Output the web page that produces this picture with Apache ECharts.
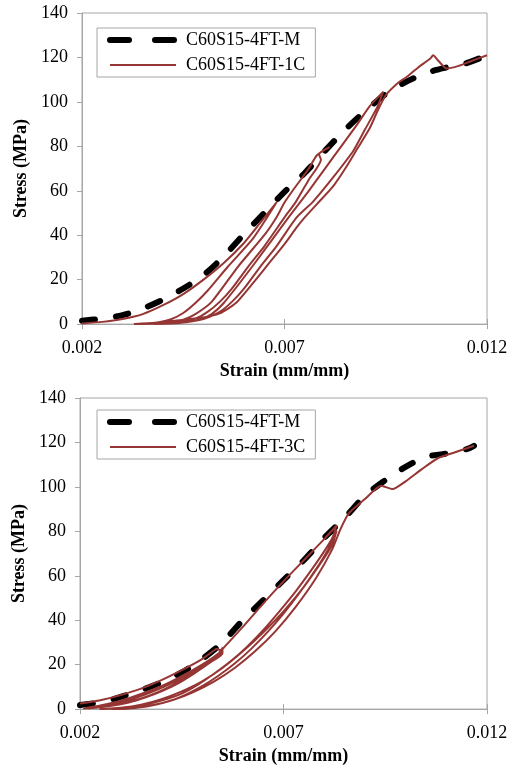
<!DOCTYPE html>
<html>
<head>
<meta charset="utf-8">
<script src="https://cdn.jsdelivr.net/npm/echarts@6/dist/echarts.min.js"></script>
<style>
  body { margin: 0; background: #fff; }
  .chart { width: 515px; height: 385px; }
</style>
</head>
<body>
<div id="chartTop" class="chart"></div>
<div id="chartBottom" class="chart"></div>
<script>
// tick labels
var strainTicks = [0.002, 0.007, 0.012];
var stressTicks = [0, 20, 40, 60, 80, 100, 120, 140];

// ---- top panel: monotonic vs 1 cycle set ----
var topMonoStrain = [0.002, 0.0025, 0.003, 0.0035, 0.004, 0.0045, 0.005, 0.0055, 0.006, 0.0065, 0.007,
  0.0075, 0.008, 0.0085, 0.009, 0.0095, 0.01, 0.0105, 0.011, 0.0115, 0.0118];
var topMonoStress = [1.5, 2.5, 4, 7, 11, 16, 22, 30.5, 40.5, 50, 59.5, 68, 78, 87.5, 96, 103.5, 109, 113, 115.5, 117.5, 119.5];

var top1CEnvelope = [[0.002, 0.3], [0.0025, 1], [0.003, 2.3], [0.0035, 4.5], [0.004, 8.5], [0.0045, 13.5],
  [0.005, 20], [0.0055, 27.5], [0.006, 36.5], [0.0064, 45.5], [0.0068, 54.7]];
var top1CUnload1 = [[0.00657, 48], [0.0062, 38], [0.0056, 25.8], [0.0051, 15], [0.0048, 9.5], [0.0045, 5],
  [0.0042, 2.2], [0.0039, 0.8], [0.0036, 0.2]];
var top1CReload1 = [[0.0041, 0.8], [0.0045, 2], [0.0048, 4.5], [0.0052, 10], [0.00585, 25.8], [0.0065, 40],
  [0.0068, 48], [0.007, 54.7], [0.0072, 60], [0.0076, 70], [0.0078, 76], [0.0081, 79.5]];
var top1CUnload2 = [[0.00785, 76.5], [0.0079, 74], [0.0076, 65], [0.00728, 55], [0.007, 48], [0.0065, 35],
  [0.0061, 25.8], [0.0057, 16], [0.0054, 10], [0.0051, 5.5], [0.0048, 2.5], [0.0043, 0.6], [0.0038, 0.1]];
var top1CReload2 = [[0.0044, 0.5], [0.0049, 2], [0.0052, 4.5], [0.0055, 9.5], [0.0062, 25.8], [0.0071, 48],
  [0.0076, 60], [0.008, 70], [0.0084, 80], [0.0088, 90], [0.0091, 98], [0.00943, 104.4]];
var top1CUnload3 = [[0.0093, 98], [0.009, 88], [0.0087, 78], [0.0082, 66], [0.0077, 55], [0.0073, 48],
  [0.0068, 35], [0.0064, 25.8], [0.006, 16], [0.0057, 10], [0.0054, 5.5], [0.005, 2.3], [0.0044, 0.6], [0.0033, 0]];
var top1CReload3 = [[0.0038, 0.6], [0.0043, 1.5], [0.0049, 2.7], [0.0054, 4.8], [0.0058, 9.5], [0.0062, 18],
  [0.0066, 27], [0.007, 36], [0.0073, 43.5], [0.0075, 48], [0.0078, 54], [0.0082, 62], [0.0085, 70],
  [0.0088, 79], [0.0091, 88], [0.0093, 96], [0.0095, 103], [0.0098, 108.5], [0.01, 111], [0.0103, 115.5],
  [0.0106, 119.5], [0.01067, 121], [0.0108, 118.5], [0.011, 115], [0.0113, 116.2], [0.0116, 118.3], [0.012, 121]];

// ---- bottom panel: monotonic vs 3 cycle set ----
var botMonoStrain = [0.002, 0.0025, 0.003, 0.0035, 0.004, 0.0045, 0.005, 0.0055, 0.006, 0.0065, 0.007,
  0.0075, 0.008, 0.0085, 0.009, 0.0095, 0.01, 0.0105, 0.011, 0.0115, 0.01168];
var botMonoStress = [1.8, 3, 5.5, 8.5, 12, 16.5, 22.5, 30, 40, 49, 58, 67, 77, 86, 96, 103, 109, 113.5, 115, 117, 118.5];

var bot3CEnvelope = [[0.002, 2.5], [0.0025, 4], [0.003, 6.3], [0.0035, 9.2], [0.004, 13], [0.0045, 17.5],
  [0.005, 22.5], [0.0053, 26.5], [0.00535, 27]];
var bot3CUnloadA1 = [[0.0055, 26], [0.0054, 24], [0.0051, 20], [0.0047, 15.5], [0.0043, 11], [0.0039, 7.5],
  [0.0035, 4.8], [0.003, 2.5], [0.0025, 1], [0.0021, 0.3]];
var bot3CReloadA1 = [[0.0025, 1.6], [0.003, 3.8], [0.0035, 6.8], [0.004, 10.3], [0.0045, 14.8], [0.005, 20],
  [0.0054, 25], [0.0055, 27.5]];
var bot3CUnloadA2 = [[0.0055, 25], [0.0052, 21], [0.0048, 16], [0.0044, 11.5], [0.004, 8], [0.0036, 5.2],
  [0.0032, 3], [0.0027, 1.3], [0.0022, 0.3]];
var bot3CReloadA2 = [[0.0026, 1.5], [0.0031, 3.6], [0.0036, 6.5], [0.0041, 10.3], [0.0046, 15], [0.005, 19.8],
  [0.0054, 25], [0.0056, 29], [0.006, 37], [0.0065, 47.5], [0.007, 57.5], [0.0075, 67], [0.008, 76.5], [0.0083, 82.5]];
var bot3CUnloadB1 = [[0.0082, 77], [0.008, 71], [0.0077, 63], [0.0073, 53], [0.0069, 44], [0.0065, 35.5],
  [0.0061, 28], [0.0057, 21.5], [0.0053, 16], [0.0049, 11], [0.0045, 7], [0.004, 3.8], [0.0035, 1.6],
  [0.003, 0.5], [0.0025, 0]];
var bot3CReloadB1 = [[0.003, 0.6], [0.0035, 2], [0.004, 4.5], [0.0045, 8], [0.005, 12.5], [0.0055, 18.5],
  [0.006, 26], [0.0065, 34.5], [0.007, 44], [0.0075, 55], [0.008, 68], [0.0082, 74], [0.0083, 80]];
var bot3CUnloadB2 = [[0.0081, 72], [0.0078, 63], [0.0074, 52.5], [0.007, 43], [0.0066, 34.5], [0.0062, 27],
  [0.0058, 20.5], [0.0054, 15], [0.005, 10.3], [0.0046, 6.5], [0.0042, 3.6], [0.0037, 1.4], [0.0032, 0.3], [0.0028, 0]];
var bot3CReloadB2 = [[0.0033, 0.5], [0.0038, 1.8], [0.0043, 4.2], [0.0048, 7.8], [0.0053, 12.5], [0.0058, 18.5],
  [0.0063, 26], [0.0068, 35], [0.0073, 46], [0.0078, 59], [0.0082, 72], [0.0084, 81], [0.0086, 88], [0.009, 94.5],
  [0.0094, 100.5], [0.00968, 99], [0.01, 102.5], [0.0104, 108], [0.0108, 113], [0.0112, 115.5], [0.01168, 118.5]];

var zip = function (xs, ys) {
  return xs.map(function (x, i) { return [x, ys[i]]; });
};

var axisGray = '#a6a6a6';
var lineRed = '#963634';
var serif = 'Liberation Serif';

function buildOption(cfg) {
  return {
    animation: false,
    textStyle: { fontFamily: serif },
    grid: {
      left: cfg.left, right: 28, top: 13, height: cfg.height,
      show: true, borderColor: axisGray, borderWidth: 1
    },
    legend: {
      orient: 'vertical',
      left: 97,
      top: cfg.legendTop,
      padding: [3, 10, 3, 10],
      itemGap: 7,
      itemWidth: 66,
      itemHeight: 18,
      borderColor: axisGray,
      borderWidth: 1,
      selectedMode: false,
      itemStyle: { opacity: 0 },   // line only, no marker in the key
      textStyle: { fontSize: 18, color: '#000', fontFamily: serif, padding: [0, 0, 0, 5] },
      data: [
        { name: 'C60S15-4FT-M', lineStyle: { type: [19, 26], width: 6, cap: 'round' } },
        { name: cfg.cyclicName }
      ]
    },
    xAxis: [{
      type: 'value',
      min: strainTicks[0],
      max: strainTicks[2],
      interval: strainTicks[1] - strainTicks[0],
      name: 'Strain (mm/mm)',
      nameLocation: 'middle',
      nameGap: 36,
      nameTextStyle: { fontSize: 18, fontWeight: 'bold', color: '#000', fontFamily: serif },
      axisLine: { lineStyle: { color: axisGray } },
      axisTick: { length: 5, lineStyle: { color: axisGray } },
      axisLabel: {
        fontSize: 18, color: '#000', margin: 15, fontFamily: serif,
        formatter: function (v) { return v.toFixed(3); }
      },
      splitLine: { show: false }
    }, {
      // second copy only for the inner half of the crossing ticks
      type: 'value',
      position: 'bottom',
      min: strainTicks[0],
      max: strainTicks[2],
      interval: strainTicks[1] - strainTicks[0],
      axisLine: { show: false },
      axisLabel: { show: false },
      axisTick: { inside: true, length: 5, lineStyle: { color: axisGray } },
      splitLine: { show: false }
    }],
    yAxis: {
      type: 'value',
      min: stressTicks[0],
      max: stressTicks[stressTicks.length - 1],
      interval: stressTicks[1] - stressTicks[0],
      name: 'Stress (MPa)',
      nameLocation: 'middle',
      nameGap: 48,
      nameTextStyle: { fontSize: 18, fontWeight: 'bold', color: '#000', fontFamily: serif },
      axisLine: { show: true, lineStyle: { color: axisGray } },
      axisTick: { show: true, length: 5, lineStyle: { color: axisGray } },
      axisLabel: { fontSize: 18, color: '#000', margin: 14, fontFamily: serif },
      splitLine: { show: false }
    },
    series: [{
      name: 'C60S15-4FT-M',
      type: 'line',
      data: cfg.mono,
      symbol: 'none',
      smooth: 0.3,
      z: 2,
      itemStyle: { color: '#000' },
      lineStyle: { color: '#000', width: 6, type: [13, 21], cap: 'round' }
    }, {
      name: cfg.cyclicName,
      type: 'line',
      data: cfg.cyclic,
      symbol: 'none',
      smooth: 0.2,
      z: 3,
      itemStyle: { color: lineRed },
      lineStyle: { color: lineRed, width: 2, join: 'round' }
    }]
  };
}

var topChart = echarts.init(document.getElementById('chartTop'));
topChart.setOption(buildOption({
  left: 82,
  height: 315,
  legendTop: 28,
  cyclicName: 'C60S15-4FT-1C',
  mono: zip(topMonoStrain, topMonoStress),
  cyclic: [].concat(top1CEnvelope, top1CUnload1, top1CReload1, top1CUnload2, top1CReload2,
    top1CUnload3, top1CReload3)
}));

var bottomChart = echarts.init(document.getElementById('chartBottom'));
bottomChart.setOption(buildOption({
  left: 80,
  height: 316,
  legendTop: 25,
  cyclicName: 'C60S15-4FT-3C',
  mono: zip(botMonoStrain, botMonoStress),
  cyclic: [].concat(bot3CEnvelope, bot3CUnloadA1, bot3CReloadA1, bot3CUnloadA2, bot3CReloadA2,
    bot3CUnloadB1, bot3CReloadB1, bot3CUnloadB2, bot3CReloadB2)
}));
</script>
</body>
</html>
